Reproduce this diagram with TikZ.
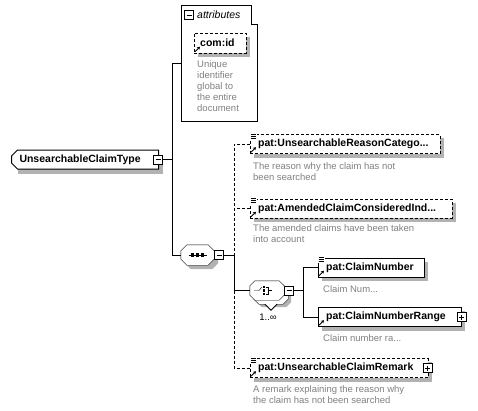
\documentclass[tikz,border=0pt]{standalone}
\usepackage{fontspec}
\setmainfont{Liberation Sans}
\usetikzlibrary{shapes.misc,arrows.meta}

\definecolor{docgray}{RGB}{128,128,128}
\colorlet{shadowgray}{black!30}

\pgfdeclarelayer{shadowlayer}
\pgfsetlayers{shadowlayer,main}

% small marks on element boxes
\newcommand{\docmark}[1]{%
  \fill[white] ([xshift=-0.5pt,yshift=1.5pt]#1.north west) rectangle ++(7,7);
  \foreach \dy in {1,3,5}
    \draw[line width=0.6pt] ([xshift=0.5pt,yshift=1.5pt]#1.north west) ++(0,\dy) -- ++(5.5,0);
}
\newcommand{\refmark}[1]{%
  \draw[line width=0.9pt, -{Stealth[length=3pt,width=3.5pt]}]
    ([xshift=1pt,yshift=1.5pt]#1.south west) -- ++(5,-5);
}
% grey shadow behind a box
\newcommand{\boxshadow}[1]{%
  \begin{pgfonlayer}{shadowlayer}
    \fill[shadowgray] ([shift={(4pt,-4pt)}]#1.north west) rectangle ([shift={(4pt,-4pt)}]#1.south east);
  \end{pgfonlayer}
}
% octagon outline round a node, shifted by #3
\newcommand{\octpath}[3]{%
  ([shift={#3},xshift=#2]#1.north west) -- ([shift={#3},xshift=-#2]#1.north east)
  -- ([shift={#3},yshift=-#2]#1.north east) -- ([shift={#3},yshift=#2]#1.south east)
  -- ([shift={#3},xshift=-#2]#1.south east) -- ([shift={#3},xshift=#2]#1.south west)
  -- ([shift={#3},yshift=#2]#1.south west) -- ([shift={#3},yshift=-#2]#1.north west) -- cycle}

\begin{document}
\begin{tikzpicture}[x=1pt, y=-1pt, line width=1pt,
    elem/.style={rectangle, draw, fill=white, anchor=west,
                 minimum height=19pt, inner sep=0pt, align=left,
                 font=\fontsize{10.5}{12}\selectfont\bfseries},
    optel/.style={elem, dash pattern=on 3pt off 2pt},
    ctype/.style={chamfered rectangle, chamfered rectangle corners={north west,south west},
                  chamfered rectangle xsep=3pt, chamfered rectangle ysep=3pt,
                  draw, fill=white, anchor=west, minimum height=19pt,
                  inner sep=0pt, align=left, font=\fontsize{10.5}{12}\selectfont\bfseries},
    octo/.style={rectangle, inner sep=0pt},
    minusbox/.style={rectangle, draw, fill=white, minimum size=9pt, inner sep=0pt,
                     line width=0.8pt,
                     path picture={\draw[line width=0.8pt]
                       ([xshift=2pt]path picture bounding box.west) --
                       ([xshift=-2pt]path picture bounding box.east);}},
    plusbox/.style={rectangle, draw, fill=white, minimum size=9pt, inner sep=0pt,
                    line width=0.8pt,
                    path picture={\draw[line width=0.8pt]
                      ([xshift=2pt]path picture bounding box.west) --
                      ([xshift=-2pt]path picture bounding box.east)
                      ([yshift=-2pt]path picture bounding box.north) --
                      ([yshift=2pt]path picture bounding box.south);}},
    doc/.style={anchor=north west, align=left, inner sep=0pt, text=docgray,
                font=\fontsize{9.5}{11}\selectfont},
    dashline/.style={dash pattern=on 3pt off 2pt},
  ]
  \useasboundingbox (0,0) rectangle (478,410);

  % complex type
  \node[ctype, text width=141pt] (uct) at (11,159.5) {\hspace*{5pt}UnsearchableClaimType};
  \boxshadow{uct}
  \node[minusbox] (uctm) at ([xshift=-1pt]uct.east) {};

  % attributes
  \node[anchor=north west, minimum width=76pt, minimum height=115.5pt, inner sep=0pt] (attrs) at (181,5) {};
  \draw (attrs.north west) -- ([xshift=-6pt]attrs.north east) -- ++(0,19)
    -- ([yshift=-19pt]attrs.north east) -- (attrs.south east) -- (attrs.south west) -- cycle;
  \node[minusbox] (attrm) at (189,15) {};
  \node[anchor=west, inner sep=0pt, font=\fontsize{10.5}{12}\selectfont\itshape] (attrlbl) at (197,15) {attributes};
  \node[optel, text width=52pt, minimum height=20pt] (comid) at (194,43) {\hspace*{6pt}com:id};
  \boxshadow{comid}\refmark{comid}
  \node[doc] (comiddoc) at (197,60.5) {Unique\\identifier\\global to\\the entire\\document};

  % sequence
  \node[octo, minimum width=33pt, minimum height=20pt] (seq) at (197.5,255) {};
  \begin{pgfonlayer}{shadowlayer}
    \fill[shadowgray] \octpath{seq}{6pt}{(4pt,-4pt)};
  \end{pgfonlayer}
  \draw[fill=white] \octpath{seq}{6pt}{(0pt,0pt)};
  \draw ([xshift=-9pt]seq.center) -- ([xshift=9pt]seq.center);
  \foreach \dx in {-5,0,5}
    \fill ([xshift=\dx pt]seq.center) +(-1.6,-1.6) rectangle +(1.6,1.6);
  \node[minusbox] (seqm) at ([xshift=5pt]seq.east) {};

  % elements of the sequence
  \node[optel, text width=190pt] (reason) at (250,144) {\hspace*{8pt}pat:UnsearchableReasonCatego...};
  \boxshadow{reason}\docmark{reason}\refmark{reason}
  \node[doc] (reasondoc) at (253,162.5) {The reason why the claim has not\\been searched};

  \node[optel, text width=202pt] (amended) at (250,208.5) {\hspace*{8pt}pat:AmendedClaimConsideredInd...};
  \boxshadow{amended}\docmark{amended}\refmark{amended}
  \node[doc] (amendeddoc) at (253,224.5) {The amended claims have been taken\\into account};

  % choice, 1..unbounded
  \node[octo, minimum width=34pt, minimum height=19pt] (chback) at (271,294.5) {};
  \begin{pgfonlayer}{shadowlayer}
    \fill[shadowgray] \octpath{chback}{5pt}{(3pt,-3pt)};
  \end{pgfonlayer}
  \draw[fill=white] \octpath{chback}{5pt}{(0pt,0pt)};
  \draw[fill=white, line width=0.8pt] ([xshift=-6pt]chback.south) -- ++(6,6) -- ++(6,-6);
  \node[octo, minimum width=34pt, minimum height=19pt] (choice) at (267,290.5) {};
  \draw[fill=white] \octpath{choice}{5pt}{(0pt,0pt)};
  \draw ([xshift=-13pt]choice.center) -- ([xshift=-8pt]choice.center) -- ([xshift=-5pt,yshift=3.5pt]choice.center);
  \foreach \dy in {-3.5,0,3.5}
    \fill ([xshift=-3pt,yshift=\dy pt]choice.center) +(-1.3,-1.3) rectangle +(1.3,1.3);
  \draw ([xshift=-1.5pt,yshift=3.5pt]choice.center) -| ([xshift=1.5pt,yshift=-3.5pt]choice.center)
    -- ([xshift=-1.5pt,yshift=-3.5pt]choice.center);
  \draw ([xshift=1.5pt]choice.center) -- ([xshift=4.5pt]choice.center);
  \node[minusbox] (chm) at ([xshift=5pt]choice.east) {};
  \node[inner sep=0pt, font=\fontsize{9.5}{11}\selectfont] (mult) at (268,317) {1..∞};

  \node[elem, text width=106pt] (cnum) at (318,267.5) {\hspace*{8pt}pat:ClaimNumber};
  \boxshadow{cnum}\docmark{cnum}\refmark{cnum}
  \node[doc] (cnumdoc) at (323,285.5) {Claim Num...};

  \node[elem, text width=143pt] (cnr) at (318,317) {\hspace*{8pt}pat:ClaimNumberRange};
  \boxshadow{cnr}\refmark{cnr}
  \node[plusbox] (cnrp) at (cnr.east) {};
  \node[doc] (cnrdoc) at (323,334.5) {Claim number ra...};

  \node[optel, text width=178pt] (remark) at (250,368) {\hspace*{8pt}pat:UnsearchableClaimRemark};
  \boxshadow{remark}\docmark{remark}\refmark{remark}
  \node[plusbox] (remarkp) at ([xshift=-1pt]remark.east) {};
  \node[doc] (remarkdoc) at (253,385.5) {A remark explaining the reason why\\the claim has not been searched};

  % connectors
  \draw (uctm.east) -- ++(9,0) coordinate (j1);
  \draw (attrs.west) -| (j1) |- (seq.west);
  \draw (seqm.east) -- ++(10,0) coordinate (j2);
  \draw[dashline] (reason.west) -| (j2);
  \draw[dashline] (amended.west) -- (amended.west -| j2);
  \draw (j2) |- (choice.west);
  \draw[dashline] (j2 |- choice.west) |- (remark.west);
  \draw (chm.east) -- ++(9.5,0) coordinate (j3);
  \draw (cnum.west) -| (j3) |- (cnr.west);
\end{tikzpicture}
\end{document}
